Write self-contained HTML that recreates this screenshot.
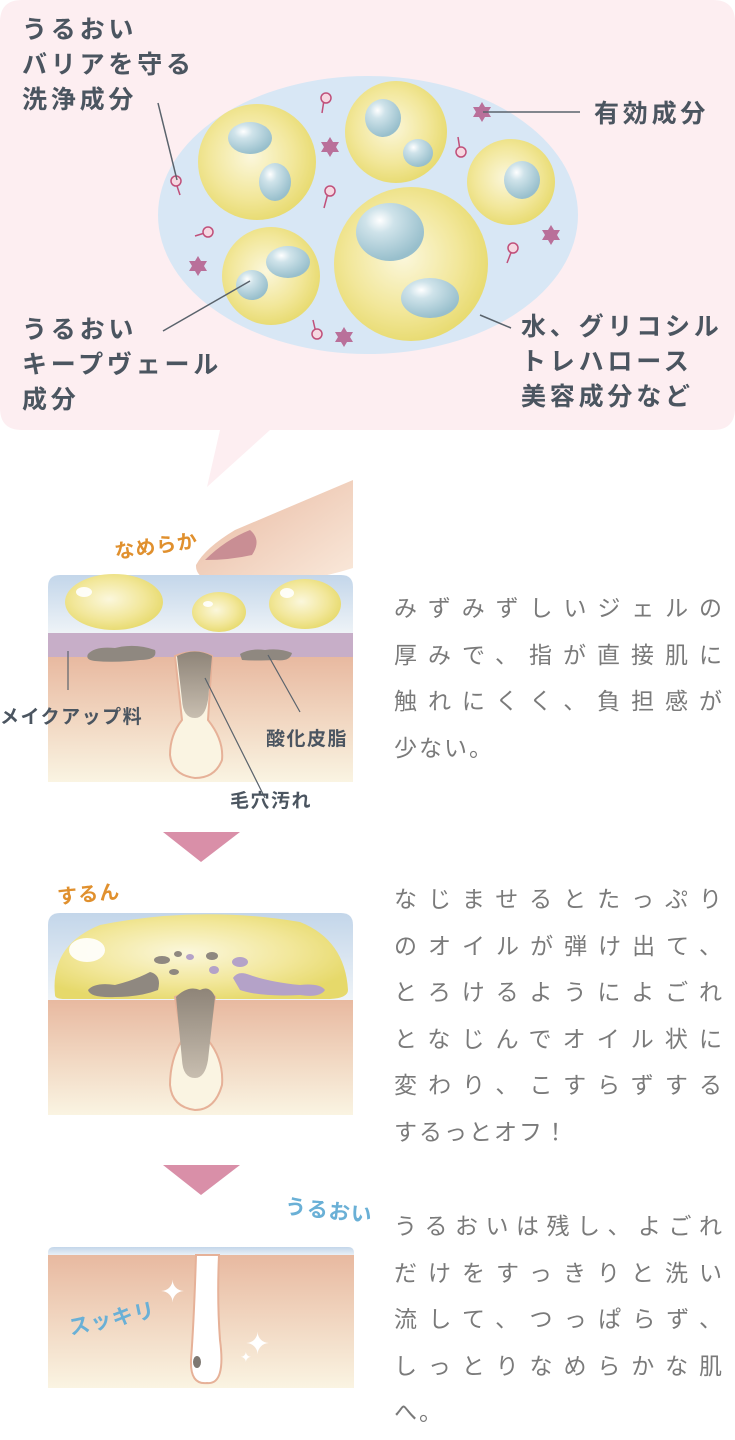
<!DOCTYPE html>
<html><head><meta charset="utf-8"><style>
html,body{margin:0;padding:0;background:#fff}
body{width:735px;height:1440px;position:relative;overflow:hidden;font-family:"Liberation Sans","Noto Sans CJK JP",sans-serif}
.t{position:absolute;font-size:25px;font-weight:bold;color:#4b5560;line-height:35px;white-space:nowrap;letter-spacing:3.8px}
.d{position:absolute;left:394px;width:330px;font-size:23px;color:#7a7a7a;letter-spacing:2px;line-height:46.5px;white-space:nowrap}
.d div{height:46.5px}
.d .j{text-align:justify;text-align-last:justify}
.l{position:absolute;font-size:19px;font-weight:bold;color:#4b5560;white-space:nowrap;letter-spacing:1.5px}
.o{position:absolute;font-size:20px;font-weight:bold;color:#e0902e;white-space:nowrap;letter-spacing:1px}
.b{position:absolute;font-size:21px;font-weight:bold;color:#6ab0d6;white-space:nowrap;letter-spacing:1px}
</style></head><body>
<svg width="735" height="1440" style="position:absolute;left:0;top:0">
<defs>
<radialGradient id="y" cx="0.45" cy="0.45" r="0.6"><stop offset="0" stop-color="#fbf7dc"/><stop offset="0.6" stop-color="#f2e79a"/><stop offset="1" stop-color="#e6d96a"/></radialGradient>
<radialGradient id="w" cx="0.35" cy="0.3" r="0.7"><stop offset="0" stop-color="#ffffff"/><stop offset="0.3" stop-color="#cfe3ea"/><stop offset="1" stop-color="#98bfcc"/></radialGradient>
<linearGradient id="sky" x1="0" y1="0" x2="0" y2="1"><stop offset="0" stop-color="#c3d6ea"/><stop offset="1" stop-color="#eef3f7"/></linearGradient>
<linearGradient id="skin" x1="0" y1="0" x2="0" y2="1"><stop offset="0" stop-color="#e8b9a0"/><stop offset="1" stop-color="#faf4e2"/></linearGradient>
<linearGradient id="pore" x1="0" y1="0" x2="0" y2="1"><stop offset="0" stop-color="#8e8478"/><stop offset="1" stop-color="#c8beb0"/></linearGradient>
<linearGradient id="fing" x1="0" y1="0" x2="1" y2="1"><stop offset="0" stop-color="#e8b8a0"/><stop offset="1" stop-color="#faeadc"/></linearGradient>
<polygon id="st" points="0,-10 3,-5 9,-5 6,0 9,5 3,5 0,10 -3,5 -9,5 -6,0 -9,-5 -3,-5" fill="#b9709a"/>
</defs>
<path d="M22 0H713Q735 0 735 22V408Q735 430 713 430H270L207 487L220 430H22Q0 430 0 408V22Q0 0 22 0Z" fill="#fdeef1"/>
<ellipse cx="368" cy="215" rx="210" ry="139" fill="#d8e7f5"/>
<g fill="url(#y)">
<ellipse cx="257" cy="162" rx="59" ry="58"/><ellipse cx="396" cy="132" rx="51" ry="51"/>
<ellipse cx="511" cy="182" rx="44" ry="43"/><ellipse cx="271" cy="276" rx="49" ry="49"/>
<ellipse cx="411" cy="264" rx="77" ry="77"/></g>
<g fill="url(#w)">
<ellipse cx="250" cy="138" rx="22" ry="16"/><ellipse cx="275" cy="182" rx="16" ry="19"/>
<ellipse cx="383" cy="118" rx="18" ry="19"/><ellipse cx="418" cy="153" rx="15" ry="14"/>
<ellipse cx="522" cy="180" rx="18" ry="19"/><ellipse cx="288" cy="262" rx="22" ry="16"/>
<ellipse cx="252" cy="285" rx="16" ry="15"/><ellipse cx="390" cy="232" rx="34" ry="29"/>
<ellipse cx="430" cy="298" rx="29" ry="20"/></g>
<use href="#st" x="330" y="147"/><use href="#st" x="482" y="112"/><use href="#st" x="551" y="235"/><use href="#st" x="198" y="266"/><use href="#st" x="344" y="337"/>
<g stroke="#c0507a" stroke-width="1.5" fill="#f6d8e2">
<line x1="324" y1="100" x2="322" y2="113"/><circle cx="326" cy="98" r="5"/>
<line x1="176" y1="183" x2="180" y2="195"/><circle cx="176" cy="181" r="5"/>
<line x1="460" y1="150" x2="458" y2="137"/><circle cx="461" cy="152" r="5"/>
<line x1="328" y1="193" x2="324" y2="208"/><circle cx="330" cy="191" r="5"/>
<line x1="208" y1="232" x2="195" y2="236"/><circle cx="208" cy="232" r="5"/>
<line x1="512" y1="250" x2="507" y2="263"/><circle cx="513" cy="248" r="5"/>
<line x1="316" y1="333" x2="313" y2="320"/><circle cx="317" cy="334" r="5"/></g>
<g stroke="#5a636c" stroke-width="1.5">
<line x1="158" y1="103" x2="177" y2="180"/><line x1="483" y1="112" x2="580" y2="112"/>
<line x1="163" y1="331" x2="250" y2="281"/><line x1="480" y1="315" x2="511" y2="328"/></g>
<path d="M353 480L353 568Q300 585 230 585Q195 582 196 565Q205 548 235 530L353 480Z" fill="url(#fing)"/>
<path d="M205 560Q225 540 250 530Q262 540 252 555Q230 560 205 560Z" fill="#c98e94"/>
<path d="M60 575H341Q353 575 353 587V633H48V587Q48 575 60 575Z" fill="url(#sky)"/>
<rect x="48" y="633" width="305" height="24" fill="#c7aec8"/>
<rect x="48" y="657" width="305" height="125" fill="url(#skin)"/>
<g fill="url(#y)"><ellipse cx="114" cy="602" rx="49" ry="28"/><ellipse cx="219" cy="612" rx="27" ry="20"/><ellipse cx="305" cy="604" rx="36" ry="25"/></g>
<g fill="#fff" opacity="0.9"><ellipse cx="84" cy="592" rx="8" ry="5"/><ellipse cx="208" cy="604" rx="5" ry="3"/><ellipse cx="287" cy="593" rx="7" ry="5"/></g>
<path d="M175 656Q195 648 212 656L208 720Q224 740 222 760Q215 778 195 778Q172 775 170 755Q170 735 182 720Z" fill="#faf4e2" stroke="#e6b198" stroke-width="2"/>
<path d="M177 656Q195 647 212 656L208 700Q205 718 195 718Q183 718 182 700Z" fill="url(#pore)"/>
<path d="M88 654Q95 646 115 648Q135 643 155 650Q158 660 140 660Q115 663 95 661Q85 660 88 654Z" fill="#8f8880"/>
<path d="M240 654Q250 648 265 650Q280 648 292 653Q290 662 275 660Q255 661 242 660Z" fill="#8f8880"/>
<g stroke="#5a636c" stroke-width="1.2"><line x1="68" y1="651" x2="68" y2="690"/><line x1="268" y1="655" x2="300" y2="712"/><line x1="205" y1="678" x2="265" y2="798"/></g>
<polygon points="163,832 240,832 201,862" fill="#d98fa8"/>
<path d="M60 913H341Q353 913 353 925V1000H48V925Q48 913 60 913Z" fill="url(#sky)"/>
<rect x="48" y="1000" width="305" height="115" fill="url(#skin)"/>
<path d="M55 995Q50 945 100 925Q200 905 300 922Q345 940 348 990Q348 998 330 999H65Q55 999 55 995Z" fill="url(#y)"/>
<ellipse cx="87" cy="950" rx="18" ry="12" fill="#fff" opacity="0.9"/>
<path d="M175 997Q190 990 200 996Q210 990 215 997L208 1040Q224 1060 222 1085Q215 1110 195 1110Q172 1107 170 1085Q170 1060 182 1040Z" fill="#faf4e2" stroke="#e6b198" stroke-width="2"/>
<path d="M176 997Q188 985 200 990Q210 985 215 997L208 1060Q205 1078 195 1078Q183 1078 182 1060Z" fill="url(#pore)"/>
<path d="M88 990Q95 982 115 985Q135 980 150 972Q162 975 158 990Q140 997 115 997Q90 998 88 990Z" fill="#8f8880"/>
<path d="M233 978Q238 970 250 975Q270 982 300 985Q320 983 325 990Q320 998 300 995Q260 997 240 990Z" fill="#b4a2c8"/>
<g fill="#8f8880"><ellipse cx="162" cy="960" rx="8" ry="4"/><ellipse cx="174" cy="972" rx="5" ry="3"/><ellipse cx="212" cy="956" rx="6" ry="4"/><ellipse cx="178" cy="954" rx="4" ry="3"/></g>
<g fill="#b4a2c8"><ellipse cx="240" cy="962" rx="8" ry="5"/><ellipse cx="214" cy="970" rx="5" ry="4"/><ellipse cx="190" cy="957" rx="4" ry="3"/></g>
<polygon points="163,1165 240,1165 201,1195" fill="#d98fa8"/>
<path d="M54 1247H348Q354 1247 354 1253V1256H48V1253Q48 1247 54 1247Z" fill="url(#sky)"/>
<rect x="48" y="1255" width="306" height="133" fill="url(#skin)"/>
<path d="M196 1255H219Q217 1300 220 1340Q226 1385 207 1383Q190 1385 191 1360Q194 1320 196 1255Z" fill="#fff" stroke="#e6b198" stroke-width="2"/>
<ellipse cx="197" cy="1362" rx="4" ry="6" fill="#7e7872"/>
<g fill="#fff"><text x="160" y="1302" font-size="30">✦</text><text x="245" y="1354" font-size="30">✦</text><text x="240" y="1362" font-size="14">✦</text></g>
</svg>
<div class="t" style="left:22px;top:13px">うるおい<br>バリアを守る<br>洗浄成分</div>
<div class="t" style="left:594px;top:97px">有効成分</div>
<div class="t" style="left:22px;top:313px">うるおい<br>キープヴェール<br>成分</div>
<div class="t" style="left:521px;top:310px">水、グリコシル<br>トレハロース<br>美容成分など</div>
<div class="o" style="left:114px;top:530px;transform:rotate(-8deg)">なめらか</div>
<div class="l" style="left:0px;top:702px">メイクアップ料</div>
<div class="l" style="left:266px;top:724px">酸化皮脂</div>
<div class="l" style="left:230px;top:786px">毛穴汚れ</div>
<div class="o" style="left:57px;top:878px;transform:rotate(-5deg)">するん</div>
<div class="b" style="left:285px;top:1195px;transform:rotate(6deg)">うるおい</div>
<div class="b" style="left:68px;top:1303px;transform:rotate(-12deg)">スッキリ</div>
<div class="d" style="top:585px"><div class="j">みずみずしいジェルの</div><div class="j">厚みで、指が直接肌に</div><div class="j">触れにくく、負担感が</div><div>少ない。</div></div>
<div class="d" style="top:876px"><div class="j">なじませるとたっぷり</div><div class="j">のオイルが弾け出て、</div><div class="j">とろけるようによごれ</div><div class="j">となじんでオイル状に</div><div class="j">変わり、こすらずする</div><div>するっとオフ！</div></div>
<div class="d" style="top:1203px"><div class="j">うるおいは残し、よごれ</div><div class="j">だけをすっきりと洗い</div><div class="j">流して、つっぱらず、</div><div class="j">しっとりなめらかな肌</div><div>へ。</div></div>
</body></html>
